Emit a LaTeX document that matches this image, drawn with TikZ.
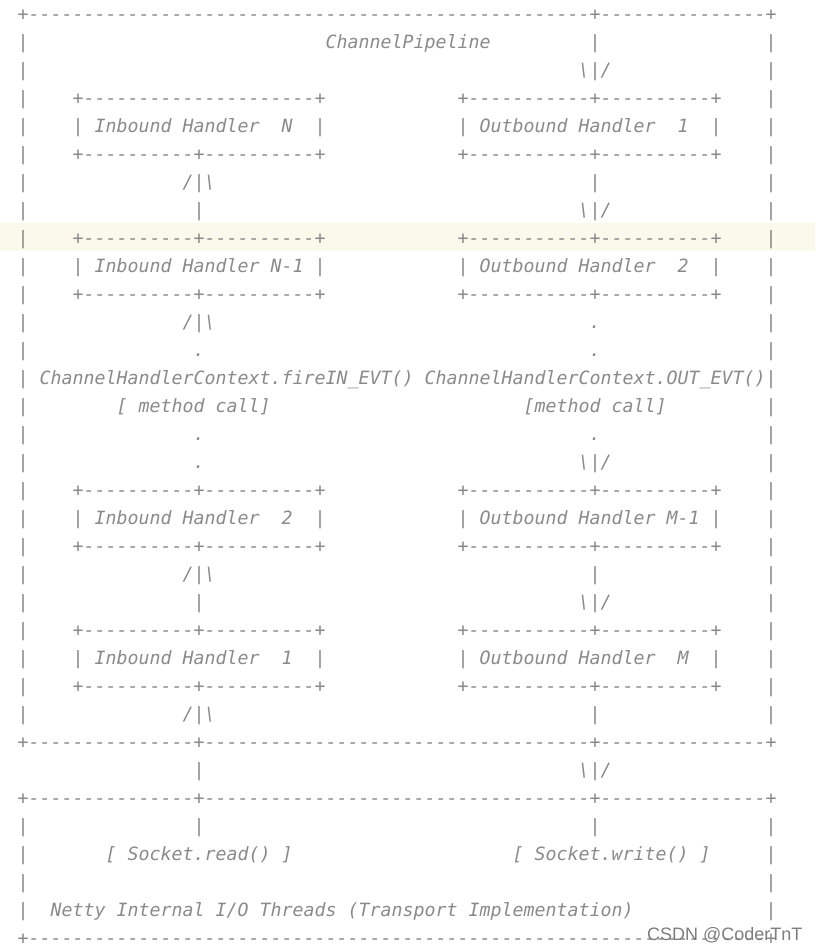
\documentclass[tikz,border=0pt]{standalone}
\usepackage{fontspec}
\setmonofont{DejaVu Sans Mono}
\setsansfont{Liberation Sans}
\definecolor{ink}{RGB}{138,138,138}
\definecolor{band}{RGB}{251,249,236}
\definecolor{wmark}{RGB}{125,125,125}
\newcommand\blank[1]{\hspace*{#1\fontcharwd\font`x}}
\ExplSyntaxOn
\cs_new:Npn \dsh #1 {\prg_replicate:nn {#1} {-}}
\ExplSyntaxOff
\newcommand\bsl{\textbackslash}
\newcommand\boxedge{|\blank{4}+\dsh{10}+\dsh{10}+\blank{12}+\dsh{11}+\dsh{10}+\blank{4}|}
\newcommand\upline{|\blank{14}/|\bsl\blank{34}|\blank{15}|}
\newcommand\downline{|\blank{15}|\blank{34}\bsl|/\blank{14}|}
\newcommand\dotline{|\blank{15}.\blank{35}.\blank{15}|}
\newcommand\sepline{+\dsh{15}+\dsh{35}+\dsh{15}+}
\begin{document}
\begin{tikzpicture}[x=1pt,y=1pt,
  asc/.style={anchor=base west, inner sep=0pt, text=ink,
    font=\fontsize{18.27}{28}\selectfont\ttfamily\itshape}]
\useasboundingbox (0,0) rectangle (815,-950);
\fill[band] (0,-223) rectangle (815,-251);
\node[asc] (l0) at (17.5,-20.7) {+\dsh{51}+\dsh{15}+};
\node[asc] (l1) at (17.5,-48.7) {|\blank{27}ChannelPipeline\blank{9}|\blank{15}|};
\node[asc] (l2) at (17.5,-76.7) {|\blank{50}\bsl|/\blank{14}|};
\node[asc] (l3) at (17.5,-104.7) {|\blank{4}+\dsh{21}+\blank{12}+\dsh{11}+\dsh{10}+\blank{4}|};
\node[asc] (l4) at (17.5,-132.7) {|\blank{4}|\blank{1}Inbound\blank{1}Handler\blank{2}N\blank{2}|\blank{12}|\blank{1}Outbound\blank{1}Handler\blank{2}1\blank{2}|\blank{4}|};
\node[asc] (l5) at (17.5,-160.7) {\boxedge};
\node[asc] (l6) at (17.5,-188.7) {\upline};
\node[asc] (l7) at (17.5,-216.7) {\downline};
\node[asc] (l8) at (17.5,-244.7) {\boxedge};
\node[asc] (l9) at (17.5,-272.7) {|\blank{4}|\blank{1}Inbound\blank{1}Handler\blank{1}N-1\blank{1}|\blank{12}|\blank{1}Outbound\blank{1}Handler\blank{2}2\blank{2}|\blank{4}|};
\node[asc] (l10) at (17.5,-300.7) {\boxedge};
\node[asc] (l11) at (17.5,-328.7) {|\blank{14}/|\bsl\blank{34}.\blank{15}|};
\node[asc] (l12) at (17.5,-356.7) {\dotline};
\node[asc] (l13) at (17.5,-384.7) {|\blank{1}ChannelHandlerContext.fireIN\_EVT()\blank{1}ChannelHandlerContext.OUT\_EVT()|};
\node[asc] (l14) at (17.5,-412.7) {|\blank{8}[\blank{1}method\blank{1}call]\blank{23}[method\blank{1}call]\blank{9}|};
\node[asc] (l15) at (17.5,-440.7) {\dotline};
\node[asc] (l16) at (17.5,-468.7) {|\blank{15}.\blank{34}\bsl|/\blank{14}|};
\node[asc] (l17) at (17.5,-496.7) {\boxedge};
\node[asc] (l18) at (17.5,-524.7) {|\blank{4}|\blank{1}Inbound\blank{1}Handler\blank{2}2\blank{2}|\blank{12}|\blank{1}Outbound\blank{1}Handler\blank{1}M-1\blank{1}|\blank{4}|};
\node[asc] (l19) at (17.5,-552.7) {\boxedge};
\node[asc] (l20) at (17.5,-580.7) {\upline};
\node[asc] (l21) at (17.5,-608.7) {\downline};
\node[asc] (l22) at (17.5,-636.7) {\boxedge};
\node[asc] (l23) at (17.5,-664.7) {|\blank{4}|\blank{1}Inbound\blank{1}Handler\blank{2}1\blank{2}|\blank{12}|\blank{1}Outbound\blank{1}Handler\blank{2}M\blank{2}|\blank{4}|};
\node[asc] (l24) at (17.5,-692.7) {\boxedge};
\node[asc] (l25) at (17.5,-720.7) {\upline};
\node[asc] (l26) at (17.5,-748.7) {\sepline};
\node[asc] (l27) at (17.5,-776.7) {\blank{16}|\blank{34}\bsl|/};
\node[asc] (l28) at (17.5,-804.7) {\sepline};
\node[asc] (l29) at (17.5,-832.7) {|\blank{15}|\blank{35}|\blank{15}|};
\node[asc] (l30) at (17.5,-860.7) {|\blank{7}[\blank{1}Socket.read()\blank{1}]\blank{20}[\blank{1}Socket.write()\blank{1}]\blank{5}|};
\node[asc] (l31) at (17.5,-888.7) {|\blank{67}|};
\node[asc] (l32) at (17.5,-916.7) {|\blank{2}Netty\blank{1}Internal\blank{1}I/O\blank{1}Threads\blank{1}(Transport\blank{1}Implementation)\blank{12}|};
\node[asc] (l33) at (17.5,-944.7) {+\dsh{67}+};
\node[anchor=base west, inner sep=0pt, text=wmark,
  font=\sffamily\fontsize{18}{20}\selectfont] (wm) at (647,-940) {CSDN @CoderTnT};
\end{tikzpicture}
\end{document}
